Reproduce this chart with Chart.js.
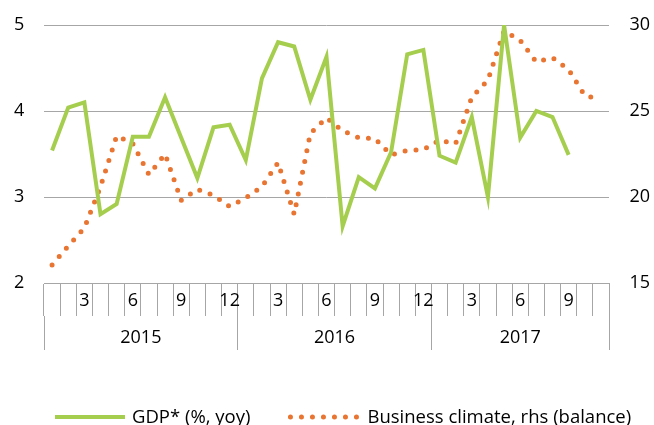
<!DOCTYPE html>
<html><head><meta charset="utf-8">
<script src="https://cdn.jsdelivr.net/npm/chart.js@4.4.1/dist/chart.umd.min.js"></script>
<style>html,body{margin:0;padding:0;background:#fff}#wrap{width:654px;height:425px;position:relative}</style>
</head><body><div id="wrap"><canvas id="c"></canvas></div>
<script>
// ---- data ----
const months = ['1','2','3','4','5','6','7','8','9','10','11','12',
                '1','2','3','4','5','6','7','8','9','10','11','12',
                '1','2','3','4','5','6','7','8','9','10','11'];
const monthTickLabels = ['3','6','9','12'];
const years = ['2015','2016','2017'];
const yearLengths = [12, 12, 11];
const gdp = [3.54,4.04,4.10,2.80,2.92,3.70,3.70,4.16,3.69,3.22,3.81,3.84,
             3.43,4.38,4.80,4.75,4.13,4.63,2.66,3.23,3.10,3.52,4.66,4.71,
             3.48,3.40,3.93,3.00,5.00,3.69,4.00,3.93,3.49,null,null];
const business = [16.05,17.15,18.2,20.6,23.55,23.1,21.3,22.5,19.8,20.45,20.1,19.45,
                  19.95,20.6,22.0,19.0,23.7,24.6,23.85,23.45,23.4,22.45,22.7,22.75,
                  23.3,23.1,25.8,26.8,29.65,29.1,27.85,28.1,27.4,25.9,25.65];
const leftRange = [2, 5, 1];
const rightRange = [15, 30, 5];
const seriesNames = ['GDP* (%, yoy)', 'Business climate, rhs (balance)'];

// ---- derived year-axis ticks ----
const yearTicks = [];
let start = 0;
yearTicks.push({value: -0.5, label: '', line: true});
years.forEach((y, i) => {
  const len = yearLengths[i];
  yearTicks.push({value: start + (len - 1) / 2, label: y, line: false});
  yearTicks.push({value: start + len - 0.5, label: '', line: true});
  start += len;
});

const GRID = '#a6a6a6';
const FONT = '"Open Sans"';
Chart.defaults.font.family = FONT;
Chart.defaults.font.size = 18;
Chart.defaults.color = '#000';

const legendPlugin = {
  id: 'bottomLegend',
  afterDraw(chart) {
    const ctx = chart.ctx;
    const base = 423, mid = 417;
    let x = 55;
    ctx.save();
    ctx.font = '18.5px ' + FONT;
    ctx.textBaseline = 'alphabetic';
    chart.data.datasets.forEach(ds => {
      ctx.beginPath();
      ctx.strokeStyle = ds.borderColor;
      ctx.lineWidth = ds.borderWidth;
      ctx.setLineDash(ds.borderDash || []);
      ctx.lineCap = ds.borderCapStyle || 'butt';
      ctx.moveTo(x, mid);
      ctx.lineTo(x + 70, mid);
      ctx.stroke();
      ctx.setLineDash([]);
      ctx.fillStyle = '#000';
      ctx.fillText(ds.label, x + 77, base);
      x += 77 + ctx.measureText(ds.label).width + 40;
    });
    ctx.restore();
  }
};

new Chart(document.getElementById('c'), {
  type: 'line',
  data: {
    labels: months,
    datasets: [
      {label: seriesNames[0], data: gdp, yAxisID: 'y', xAxisID: 'x',
       borderColor: 'rgb(166,206,78)', borderWidth: 4, pointRadius: 0, tension: 0,
       borderCapStyle: 'butt', spanGaps: false},
      {label: seriesNames[1], data: business, yAxisID: 'y1', xAxisID: 'x',
       borderColor: 'rgb(233,117,50)', borderWidth: 5, pointRadius: 0, tension: 0,
       borderDash: [0, 11], borderCapStyle: 'round'}
    ]
  },
  options: {
    responsive: true, maintainAspectRatio: false, animation: false,
    devicePixelRatio: 1,
    layout: {padding: {top: 25, bottom: 75, left: 14, right: 4}},
    plugins: {legend: {display: false}, tooltip: {enabled: false}},
    scales: {
      x: {
        type: 'category', position: 'bottom', offset: true,
        grid: {offset: true, drawOnChartArea: false, drawTicks: true, tickLength: 33, color: GRID, lineWidth: 1},
        border: {display: true, color: GRID},
        ticks: {autoSkip: false, maxRotation: 0, minRotation: 0, padding: -26,
                callback: function(v, i) { const l = months[i]; return monthTickLabels.includes(l) ? l : ''; }},
        afterFit(s) { s.height = 33; }
      },
      x2: {
        type: 'linear', position: 'bottom', min: -0.5, max: months.length - 0.5,
        grid: {drawOnChartArea: false, drawTicks: true, tickLength: 34,
               color: ctx => { const t = yearTicks.find(k => Math.abs(k.value - (ctx.tick ? ctx.tick.value : NaN)) < 1e-6); return t && t.line ? GRID : 'rgba(0,0,0,0)'; }},
        border: {display: false},
        afterBuildTicks(s) { s.ticks = yearTicks.map(t => ({value: t.value})); },
        ticks: {autoSkip: false, maxRotation: 0, minRotation: 0, padding: -23,
                callback: function(v) { const t = yearTicks.find(k => Math.abs(k.value - v) < 1e-6); return t ? t.label : ''; }},
        afterFit(s) { s.height = 34; }
      },
      y: {
        type: 'linear', position: 'left', min: leftRange[0], max: leftRange[1],
        grid: {color: GRID, drawTicks: false, lineWidth: 1},
        border: {display: false},
        ticks: {stepSize: leftRange[2], padding: 0, crossAlign: 'far'},
        afterFit(s) { s.width = 30; }
      },
      y1: {
        type: 'linear', position: 'right', min: rightRange[0], max: rightRange[1],
        grid: {drawOnChartArea: false, drawTicks: false},
        border: {display: false},
        ticks: {stepSize: rightRange[2], padding: 0, crossAlign: 'far'},
        afterFit(s) { s.width = 41; }
      }
    }
  },
  plugins: [legendPlugin]
});
</script>
</body></html>
